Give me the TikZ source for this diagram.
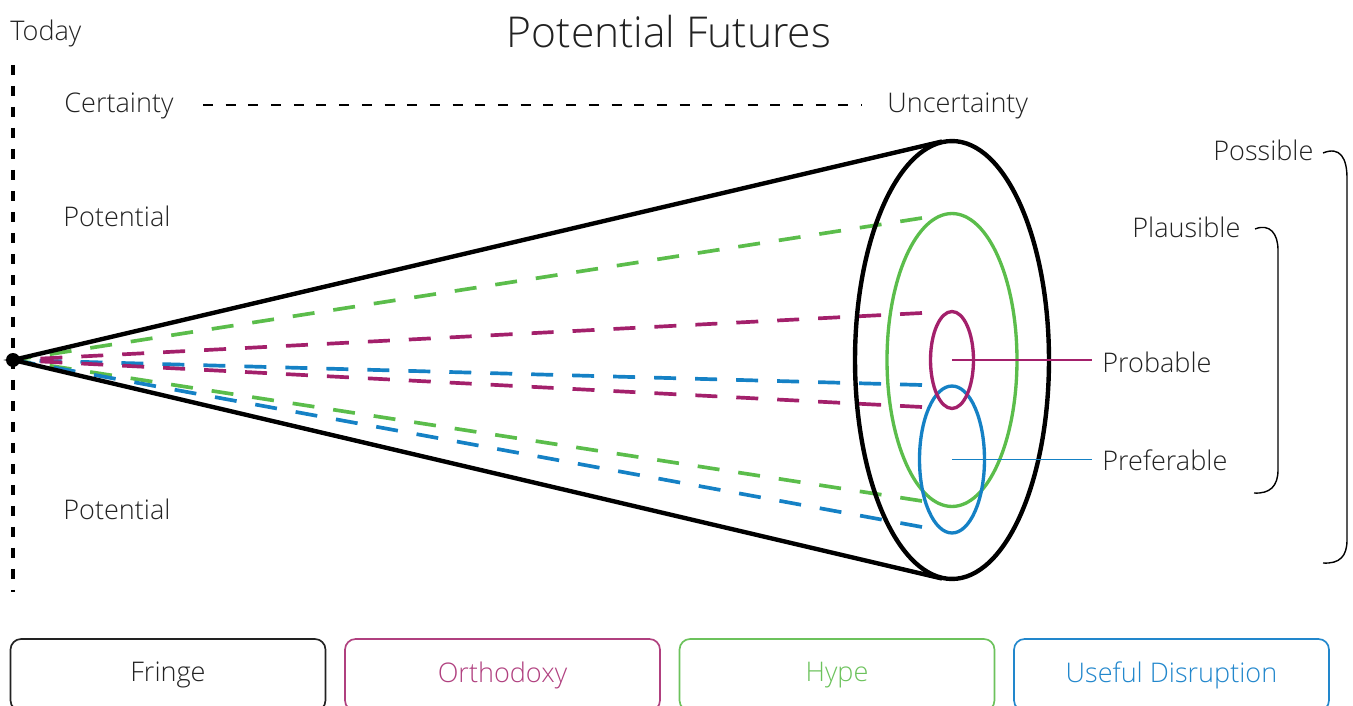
\documentclass[tikz,border=0pt]{standalone}
\usepackage{fontspec}
\IfFontExistsTF{Open Sans Light}{\setmainfont{Open Sans Light}}{\setmainfont{Open Sans}}
\usetikzlibrary{shapes.geometric}
\definecolor{cgreen}{HTML}{5BBD4B}
\definecolor{cpurple}{HTML}{A3206B}
\definecolor{cblue}{HTML}{1581C5}
\definecolor{tgreen}{HTML}{6CC25C}
\definecolor{tpurple}{HTML}{B0407F}
\definecolor{tblue}{HTML}{2287CC}
\definecolor{tdark}{HTML}{222222}
\tikzset{
  lbl/.style={inner sep=0pt, anchor=west, text=tdark, font=\fontsize{15.4}{18}\selectfont},
  ray/.style={line width=2.1pt, dash pattern=on 0.44cm off 0.38cm},
  cone/.style={line width=2.5pt, black},
  ring/.style={line width=1.9pt},
  leader/.style={line width=0.75pt},
  brace/.style={line width=0.8pt, black},
  legend/.style={draw, rounded corners=6pt, line width=0.95pt, minimum width=6.3cm, minimum height=1.44cm, inner sep=0pt, font=\fontsize{15.4}{18}\selectfont}
}
\begin{document}
\begin{tikzpicture}[x=0.02cm, y=-0.02cm]
\useasboundingbox (0,0) rectangle (1353,706);
\clip (0,0) rectangle (1353,706);
% title and labels
\node[inner sep=0pt, text=tdark, font=\fontsize{24.2}{28}\selectfont] (title) at (669,32) {Potential Futures};
\node[lbl] (today) at (10,33) {Today};
\node[lbl] (cert) at (64,106) {Certainty};
\node[lbl] (uncert) at (887,106) {Uncertainty};
\node[lbl] (pot1) at (63,216) {Potential};
\node[lbl] (pot2) at (63,509) {Potential};
\node[lbl] (possible) at (1213,150) {Possible};
\node[lbl] (plausible) at (1132,227) {Plausible};
\node[lbl] (probable) at (1102,362) {Probable};
\node[lbl] (preferable) at (1102,460) {Preferable};
% today line
\coordinate (ttop) at (13,65);
\coordinate (tbot) at (13,592);
\draw[line width=2.2pt, dash pattern=on 0.2cm off 0.22cm] (ttop) -- (tbot);
% certainty line
\coordinate (cl) at (203,105);
\coordinate (cr) at (862,105);
\draw[line width=0.75pt, dash pattern=on 0.2cm off 0.254cm] (cl) -- (cr);
% origin
\coordinate (O) at (13,360);
% coloured rays
\coordinate (g1) at (922,218);
\coordinate (p1) at (922,313);
\coordinate (b1) at (922,385);
\coordinate (p2) at (922,407);
\coordinate (g2) at (922,501);
\coordinate (b2) at (922,527);
\draw[ray, cgreen] (g1) -- (O);
\draw[ray, cgreen] (g2) -- (O);
\draw[ray, cblue] (b2) -- (O);
\draw[ray, cblue] (b1) -- (O);
\draw[ray, cpurple] (p2) -- (O);
\draw[ray, cpurple] (p1) -- (O);
% cone
\coordinate (C) at (952,360);
\coordinate (tt) at (942,141.5);
\coordinate (tb) at (942,578.5);
\draw[cone] (tt) -- (O) -- (tb);
\draw[cone] (C) ellipse [x radius=1.94cm, y radius=4.38cm];
\draw[ring, cgreen] (C) ellipse [x radius=1.3cm, y radius=2.93cm];
\coordinate (Cb) at (952,459.5);
\draw[ring, cblue] (Cb) ellipse [x radius=0.65cm, y radius=1.47cm];
\draw[ring, cpurple] (C) ellipse [x radius=0.43cm, y radius=0.97cm];
\fill (O) circle [radius=0.14cm];
% leaders
\coordinate (pe) at (1092,360);
\coordinate (be) at (1092,459.5);
\draw[leader, cpurple] (C) -- (pe);
\draw[leader, cblue] (Cb) -- (be);
% braces
\draw[brace] (1323,153) .. controls (1340,146) and (1347,158) .. (1347,178) -- (1347,540) .. controls (1347,556) and (1340,564) .. (1323,563);
\draw[brace] (1255,229) .. controls (1270,223) and (1278,234) .. (1278,250) -- (1278,470) .. controls (1278,486) and (1270,494) .. (1254,493);
% legend
\node[legend, draw=tdark, text=tdark] (fringe) at (168,675) {Fringe};
\node[legend, draw=tpurple, text=tpurple] (ortho) at (502.5,675) {Orthodoxy};
\node[legend, draw=tgreen, text=tgreen] (hype) at (837,675) {Hype};
\node[legend, draw=tblue, text=tblue] (useful) at (1171.5,675) {Useful Disruption};
\end{tikzpicture}
\end{document}
